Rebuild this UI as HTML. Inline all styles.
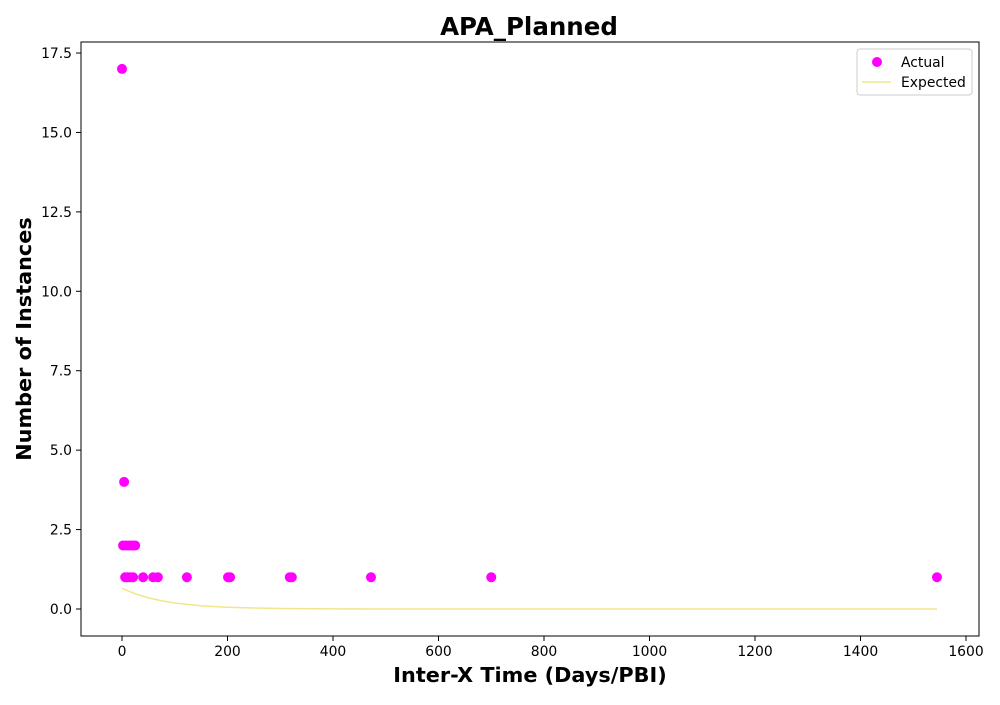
<!DOCTYPE html>
<html><head><meta charset="utf-8"><style>
body{margin:0;background:#fff;font-family:"Liberation Sans","DejaVu Sans",sans-serif;}
svg text{font-family:"DejaVu Sans","Liberation Sans",sans-serif;}
</style></head><body>
<svg id="chart" width="1000" height="700">
<rect x="0" y="0" width="1000" height="700" fill="#fff"/>
<text x="529" y="35" text-anchor="middle" font-size="24.5" font-weight="bold">APA_Planned</text>
<text x="530" y="682" text-anchor="middle" font-size="20.8" font-weight="bold">Inter-X Time (Days/PBI)</text>
<text transform="translate(31,339) rotate(-90)" text-anchor="middle" font-size="20.8" font-weight="bold">Number of Instances</text>
<g id="ticks"></g>
<g id="marks"></g>
<rect x="81" y="42" width="898" height="594" fill="none" stroke="#000" stroke-width="1"/>
<g>
<rect x="857" y="49" width="115" height="46" rx="3" fill="#fff" stroke="#ccc"/>
<circle cx="877" cy="62" r="5" fill="#ff00ff"/>
<text x="901" y="67" font-size="13.9">Actual</text>
<line x1="862" y1="82" x2="891" y2="82" stroke="#f0e68c" stroke-width="1.5"/>
<text x="901" y="87" font-size="13.9">Expected</text>
</g>
</svg>
<script>
const actualX=[0,4,2,8,15,20,25,6,10,15,21,40,59,68,123,201,205,318,322,472,700,1545];
const actualY=[17,4,2,2,2,2,2,1,1,1,1,1,1,1,1,1,1,1,1,1,1,1];
const expectedX=[0,25,50,75,100,150,200,250,300,400,500,700,1000,1300,1545];
const expectedY=[0.65,0.48,0.35,0.26,0.19,0.10,0.055,0.030,0.016,0.005,0.001,0,0,0,0];
const xTicks=[0,200,400,600,800,1000,1200,1400,1600];
const yTicks=[0,2.5,5,7.5,10,12.5,15,17.5];
const xs=v=>122+v*0.5275;
const ys=v=>609-v*31.77;
const NS="http://www.w3.org/2000/svg";
const tg=document.getElementById('ticks'), mg=document.getElementById('marks');
function mk(t,a,p){const e=document.createElementNS(NS,t);for(const k in a)e.setAttribute(k,a[k]);p.appendChild(e);return e;}
xTicks.forEach(v=>{
 const l=mk('line',{x1:xs(v),x2:xs(v),y1:636,y2:641,stroke:'#000'},tg);
 
 
 const t=mk('text',{x:xs(v),y:656,'text-anchor':'middle','font-size':13.9},tg);t.textContent=v;
 
 
});
yTicks.forEach(v=>{
 const l=mk('line',{x1:76,x2:81,y1:ys(v),y2:ys(v),stroke:'#000'},tg);
 
 
 const t=mk('text',{x:72,y:ys(v)+5,'text-anchor':'end','font-size':13.9},tg);t.textContent=v.toFixed(1);
 
 
});
const pl=mk('polyline',{points:expectedX.map((x,i)=>xs(x)+','+ys(expectedY[i])).join(' '),fill:'none',stroke:'#f0e68c','stroke-width':1.5},mg);


actualX.forEach((x,i)=>{
 const c=mk('circle',{cx:xs(x),cy:ys(actualY[i]),r:5,fill:'#ff00ff'},mg);
 
 
});
</script>
</body></html>
